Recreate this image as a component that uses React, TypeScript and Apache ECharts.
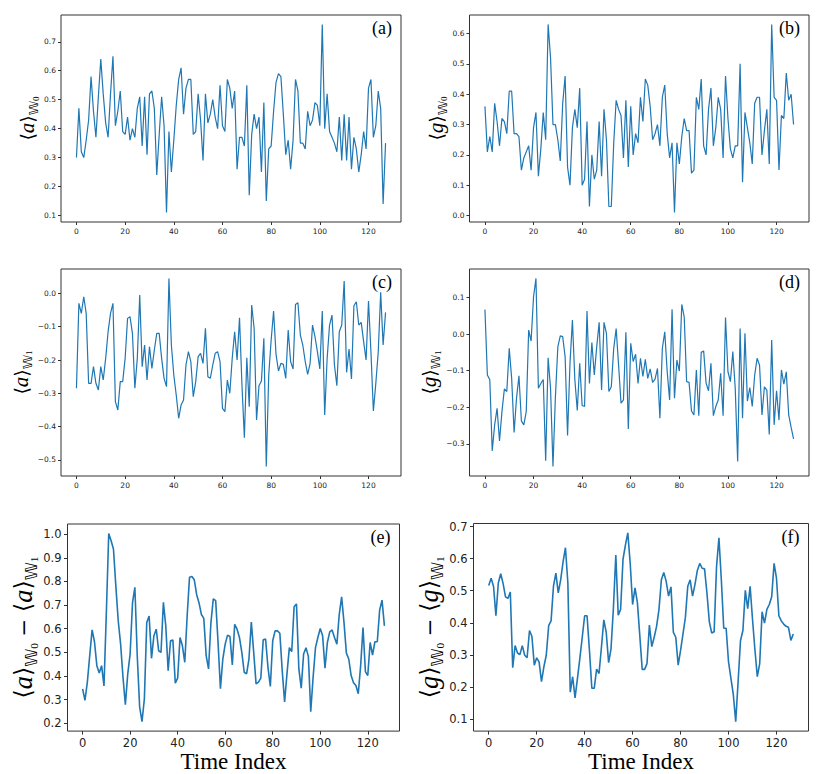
import React, { useEffect, useRef } from "react";
import * as echarts from "echarts";

// ---------- data ----------
const X_TICKS = [0, 20, 40, 60, 80, 100, 120];
const A_TICKS = [0.1, 0.2, 0.3, 0.4, 0.5, 0.6, 0.7];
const B_TICKS = [0.0, 0.1, 0.2, 0.3, 0.4, 0.5, 0.6];
const C_TICKS = [-0.5, -0.4, -0.3, -0.2, -0.1, 0.0];
const D_TICKS = [-0.3, -0.2, -0.1, 0.0, 0.1];
const E_TICKS = [0.2, 0.3, 0.4, 0.5, 0.6, 0.7, 0.8, 0.9, 1.0];
const F_TICKS = [0.1, 0.2, 0.3, 0.4, 0.5, 0.6, 0.7];

const SERIES_A = [
  0.30, 0.47, 0.32, 0.30, 0.36, 0.43, 0.58, 0.46, 0.37, 0.51, 0.64, 0.52, 0.42, 0.37, 0.52, 0.65,
  0.41, 0.46, 0.53, 0.39, 0.38, 0.44, 0.36, 0.40, 0.37, 0.47, 0.51, 0.34, 0.51, 0.31, 0.52, 0.53,
  0.47, 0.24, 0.38, 0.51, 0.41, 0.11, 0.39, 0.25, 0.36, 0.48, 0.57, 0.61, 0.45, 0.54, 0.57, 0.57,
  0.38, 0.39, 0.52, 0.43, 0.29, 0.52, 0.42, 0.45, 0.50, 0.44, 0.40, 0.55, 0.41, 0.39, 0.57, 0.54,
  0.47, 0.53, 0.26, 0.37, 0.37, 0.34, 0.55, 0.17, 0.38, 0.45, 0.40, 0.44, 0.25, 0.49, 0.15, 0.33,
  0.34, 0.46, 0.56, 0.59, 0.58, 0.45, 0.31, 0.36, 0.26, 0.36, 0.57, 0.53, 0.35, 0.35, 0.33, 0.46,
  0.41, 0.43, 0.49, 0.48, 0.41, 0.76, 0.40, 0.52, 0.39, 0.37, 0.35, 0.32, 0.44, 0.29, 0.45, 0.29,
  0.44, 0.26, 0.37, 0.33, 0.25, 0.31, 0.39, 0.33, 0.54, 0.57, 0.37, 0.41, 0.53, 0.47, 0.14, 0.35,
];

const SERIES_B = [
  0.36, 0.21, 0.26, 0.21, 0.37, 0.31, 0.23, 0.32, 0.31, 0.27, 0.41, 0.41, 0.27, 0.27, 0.26, 0.15,
  0.19, 0.21, 0.23, 0.15, 0.29, 0.34, 0.13, 0.22, 0.34, 0.25, 0.63, 0.52, 0.30, 0.30, 0.25, 0.18,
  0.37, 0.46, 0.16, 0.10, 0.29, 0.35, 0.29, 0.42, 0.10, 0.12, 0.31, 0.03, 0.20, 0.12, 0.15, 0.31,
  0.13, 0.35, 0.25, 0.03, 0.03, 0.24, 0.38, 0.35, 0.33, 0.19, 0.38, 0.16, 0.36, 0.20, 0.27, 0.24,
  0.39, 0.31, 0.45, 0.43, 0.36, 0.25, 0.27, 0.30, 0.23, 0.39, 0.43, 0.27, 0.19, 0.24, 0.01, 0.24,
  0.17, 0.26, 0.32, 0.28, 0.28, 0.14, 0.15, 0.39, 0.35, 0.45, 0.23, 0.20, 0.35, 0.42, 0.23, 0.29,
  0.39, 0.35, 0.19, 0.46, 0.32, 0.22, 0.19, 0.23, 0.23, 0.50, 0.11, 0.34, 0.29, 0.24, 0.17, 0.37,
  0.39, 0.39, 0.20, 0.28, 0.35, 0.17, 0.63, 0.39, 0.38, 0.15, 0.33, 0.32, 0.47, 0.38, 0.40, 0.30,
];

const SERIES_C = [
  -0.285, -0.03, -0.06, -0.01, -0.06, -0.27, -0.27, -0.22, -0.27, -0.29, -0.22, -0.26, -0.195, -0.115, -0.06, -0.03,
  -0.325, -0.35, -0.265, -0.265, -0.195, -0.075, -0.07, -0.12, -0.285, -0.195, -0.005, -0.22, -0.155, -0.26, -0.16, -0.225,
  -0.17, -0.12, -0.12, -0.195, -0.255, -0.28, 0.045, -0.155, -0.245, -0.305, -0.375, -0.335, -0.32, -0.215, -0.175, -0.205,
  -0.31, -0.265, -0.19, -0.18, -0.21, -0.105, -0.25, -0.255, -0.215, -0.18, -0.175, -0.205, -0.345, -0.355, -0.26, -0.30,
  -0.195, -0.115, -0.20, -0.073, -0.275, -0.433, -0.193, -0.34, -0.035, -0.105, -0.38, -0.277, -0.263, -0.135, -0.52, -0.245,
  -0.14, -0.053, -0.183, -0.233, -0.21, -0.213, -0.255, -0.11, -0.205, -0.227, -0.033, -0.028, -0.125, -0.155, -0.205, -0.243,
  -0.21, -0.095, -0.13, -0.175, -0.227, -0.053, -0.365, -0.195, -0.095, -0.065, -0.215, -0.277, -0.115, -0.095, 0.037, -0.237,
  -0.167, -0.257, -0.037, -0.025, -0.095, -0.087, -0.145, -0.20, -0.023, -0.175, -0.353, -0.27, -0.175, 0.003, -0.155, -0.057,
];

const SERIES_D = [
  0.067, -0.112, -0.125, -0.319, -0.248, -0.203, -0.292, -0.212, -0.15, -0.157, -0.039, -0.121, -0.269, -0.175, -0.114, -0.237,
  -0.248, -0.212, 0.011, -0.019, 0.102, 0.152, -0.148, -0.135, -0.124, -0.346, -0.065, -0.148, -0.362, -0.171, -0.035, -0.005,
  -0.007, -0.062, -0.277, -0.08, 0.038, -0.125, -0.209, -0.08, -0.195, -0.198, 0.063, -0.135, -0.023, -0.112, -0.035, 0.032,
  -0.153, 0.032, 0.002, -0.157, -0.144, -0.039, 0.015, -0.085, -0.189, -0.18, 0.005, -0.259, -0.025, -0.075, -0.055, -0.135,
  -0.066, -0.116, -0.069, -0.121, -0.095, -0.132, -0.123, -0.094, -0.23, -0.039, 0.006, -0.103, -0.18, 0.068, -0.175, -0.071,
  -0.101, 0.081, 0.047, -0.13, -0.132, -0.21, -0.221, -0.098, -0.223, -0.05, -0.046, -0.134, -0.155, -0.08, -0.223, -0.198,
  -0.18, -0.107, -0.223, 0.045, -0.103, -0.13, -0.048, -0.148, -0.348, 0.015, -0.23, 0.002, -0.183, -0.146, -0.198, -0.112,
  -0.066, -0.085, -0.221, -0.144, -0.153, -0.274, -0.016, -0.248, -0.155, -0.235, -0.098, -0.137, -0.103, -0.221, -0.255, -0.286,
];

const SERIES_E = [
  0.346, 0.297, 0.374, 0.486, 0.595, 0.545, 0.444, 0.413, 0.444, 0.358, 0.668, 1.003, 0.972, 0.936, 0.779, 0.633,
  0.535, 0.395, 0.279, 0.409, 0.493, 0.709, 0.775, 0.486, 0.27, 0.207, 0.304, 0.626, 0.654, 0.475, 0.57, 0.598,
  0.507, 0.50, 0.712, 0.612, 0.423, 0.549, 0.552, 0.37, 0.391, 0.563, 0.528, 0.458, 0.654, 0.818, 0.821, 0.807,
  0.744, 0.709, 0.66, 0.644, 0.486, 0.43, 0.626, 0.726, 0.719, 0.542, 0.346, 0.472, 0.535, 0.573, 0.567, 0.447,
  0.619, 0.598, 0.563, 0.500, 0.416, 0.409, 0.472, 0.628, 0.500, 0.367, 0.374, 0.391, 0.553, 0.556, 0.437, 0.356,
  0.549, 0.591, 0.591, 0.581, 0.423, 0.291, 0.409, 0.520, 0.503, 0.693, 0.705, 0.430, 0.349, 0.493, 0.520, 0.483,
  0.249, 0.395, 0.520, 0.563, 0.601, 0.570, 0.433, 0.542, 0.587, 0.595, 0.563, 0.535, 0.661, 0.735, 0.626, 0.497,
  0.472, 0.402, 0.372, 0.360, 0.325, 0.444, 0.605, 0.419, 0.402, 0.542, 0.489, 0.545, 0.545, 0.679, 0.721, 0.612,
];

const SERIES_F = [
  0.516, 0.539, 0.514, 0.422, 0.524, 0.553, 0.522, 0.481, 0.476, 0.496, 0.26, 0.329, 0.306, 0.301, 0.329, 0.299,
  0.291, 0.376, 0.358, 0.268, 0.291, 0.278, 0.217, 0.263, 0.299, 0.391, 0.406, 0.514, 0.555, 0.493, 0.534, 0.59,
  0.634, 0.524, 0.184, 0.232, 0.166, 0.227, 0.289, 0.355, 0.422, 0.422, 0.314, 0.196, 0.196, 0.256, 0.242, 0.324,
  0.409, 0.37, 0.276, 0.319, 0.447, 0.611, 0.424, 0.442, 0.598, 0.642, 0.68, 0.585, 0.457, 0.509, 0.463, 0.36,
  0.255, 0.255, 0.273, 0.393, 0.326, 0.355, 0.389, 0.442, 0.534, 0.557, 0.529, 0.483, 0.512, 0.37, 0.355, 0.268,
  0.314, 0.365, 0.416, 0.514, 0.534, 0.483, 0.519, 0.563, 0.585, 0.57, 0.568, 0.493, 0.403, 0.368, 0.372, 0.575,
  0.665, 0.534, 0.383, 0.383, 0.278, 0.227, 0.176, 0.092, 0.217, 0.345, 0.376, 0.501, 0.444, 0.514, 0.411, 0.317,
  0.232, 0.273, 0.434, 0.399, 0.442, 0.457, 0.481, 0.585, 0.539, 0.422, 0.406, 0.396, 0.389, 0.386, 0.345, 0.365,
];

const PANEL_TAGS = ["(a)", "(b)", "(c)", "(d)", "(e)", "(f)"];
const X_TITLE = "Time Index";

// ---------- helpers ----------
const SERIF = "'Liberation Serif', 'DejaVu Serif', serif";

const bracket = (letter: string, sub: string) =>
  `{br|⟨}{it|${letter}}{br|⟩}{w|𝕎}{s|${sub}}`;

const richStyles = (k: number) => ({
  br: { fontFamily: "'DejaVu Serif', serif", fontSize: 19 * k, lineHeight: 26 * k, color: "#000" },
  it: { fontFamily: SERIF, fontStyle: "italic", fontSize: 21 * k, lineHeight: 26 * k, color: "#000" },
  op: { fontFamily: "'DejaVu Serif', serif", fontSize: 17 * k, lineHeight: 26 * k, color: "#000" },
  w: { fontFamily: "'DejaVu Sans', sans-serif", fontSize: 13 * k, lineHeight: 14 * k, verticalAlign: "bottom", color: "#000" },
  s: { fontFamily: SERIF, fontSize: 9 * k, lineHeight: 9 * k, verticalAlign: "bottom", color: "#000" },
});

const limits = (arr: number[]) => {
  const mn = Math.min(...arr);
  const mx = Math.max(...arr);
  const r = mx - mn;
  return [mn - 0.05 * r, mx + 0.05 * r];
};

const fmtY = (v: number) => v.toFixed(1).replace("-", "\u2212");

export default function App() {
  const ref = useRef<HTMLDivElement>(null);

  useEffect(() => {
    if (!ref.current) return;
    const chart = echarts.init(ref.current, null, { renderer: "svg" });

    const panels = [
      { data: SERIES_A, ticks: A_TICKS, grid: { left: 61, top: 15, width: 340, height: 207 }, big: false,
        name: bracket("a", "0"), gap: 21 },
      { data: SERIES_B, ticks: B_TICKS, grid: { left: 469.5, top: 15, width: 339.5, height: 207 }, big: false,
        name: bracket("g", "0"), gap: 19 },
      { data: SERIES_C, ticks: C_TICKS, grid: { left: 61, top: 269, width: 340, height: 207 }, big: false,
        name: bracket("a", "1"), gap: 21 },
      { data: SERIES_D, ticks: D_TICKS, grid: { left: 469.5, top: 269, width: 339.5, height: 207 }, big: false,
        name: bracket("g", "1"), gap: 19 },
      { data: SERIES_E, ticks: E_TICKS, grid: { left: 67.5, top: 524, width: 332, height: 209 }, big: true,
        name: `${bracket("a", "0")}{op| − }${bracket("a", "1")}`, gap: 25 },
      { data: SERIES_F, ticks: F_TICKS, grid: { left: 473.5, top: 523.5, width: 335, height: 210 }, big: true,
        name: `${bracket("g", "0")}{op| − }${bracket("g", "1")}`, gap: 25 },
    ];

    const grids: any[] = [];
    const xAxes: any[] = [];
    const yAxes: any[] = [];
    const series: any[] = [];
    const graphics: any[] = [];

    panels.forEach((p, i) => {
      const labelSize = p.big ? 11.5 : 7.5;
      const tickLen = p.big ? 3.5 : 3;
      const k = p.big ? 1.25 : 1;
      grids.push({
        ...p.grid,
        show: true,
        borderColor: "#333",
        borderWidth: 1,
        backgroundColor: "transparent",
        containLabel: false,
      });
      xAxes.push({
        type: "value",
        gridIndex: i,
        position: "bottom",
        min: -6.35,
        max: 133.35,
        axisLine: { show: false, onZero: false },
        splitLine: { show: false },
        axisTick: { show: true, inside: false, length: tickLen, customValues: X_TICKS, lineStyle: { color: "#333", width: 1 } },
        axisLabel: {
          show: true,
          customValues: X_TICKS,
          margin: p.big ? 6 : 5,
          fontSize: labelSize,
          fontFamily: "'DejaVu Sans', sans-serif",
          color: "#222",
          formatter: (v: number) => String(v),
        },
        name: p.big ? X_TITLE : "",
        nameLocation: "middle",
        nameGap: 14,
        nameTextStyle: { fontFamily: SERIF, fontWeight: "normal", fontSize: 23, color: "#000" },
      });
      const [ymin, ymax] = limits(p.data);
      yAxes.push({
        type: "value",
        gridIndex: i,
        position: "left",
        min: ymin,
        max: ymax,
        axisLine: { show: false, onZero: false },
        splitLine: { show: false },
        axisTick: { show: true, inside: false, length: tickLen, customValues: p.ticks, lineStyle: { color: "#333", width: 1 } },
        axisLabel: {
          show: true,
          customValues: p.ticks,
          margin: p.big ? 6 : 5,
          fontSize: labelSize,
          fontFamily: "'DejaVu Sans', sans-serif",
          color: "#222",
          formatter: (v: number) => fmtY(v),
        },
        name: p.name,
        nameLocation: "middle",
        nameRotate: 90,
        nameGap: p.gap,
        nameTextStyle: { rich: richStyles(k) },
      });
      series.push({
        type: "line",
        xAxisIndex: i,
        yAxisIndex: i,
        data: p.data.map((v, j) => [j, v]),
        showSymbol: false,
        symbol: "none",
        lineStyle: { color: "#1f77b4", width: p.big ? 1.6 : 1.2 },
        itemStyle: { color: "#1f77b4" },
      });
      const right = p.grid.left + p.grid.width;
      graphics.push({
        type: "text",
        x: right - 9,
        y: p.grid.top + 13,
        style: {
          text: PANEL_TAGS[i],
          font: '18px "Liberation Serif"',
          fill: "#000",
          align: "right",
          verticalAlign: "middle",
        },
      });
    });

    chart.setOption({
      animation: false,
      backgroundColor: "#fff",
      grid: grids,
      xAxis: xAxes,
      yAxis: yAxes,
      series,
      graphic: graphics,
    });

    return () => chart.dispose();
  }, []);

  return (
    <div
      ref={ref}
      style={{ position: "fixed", left: 0, top: 0, width: 826, height: 774 }}
    />
  );
}
